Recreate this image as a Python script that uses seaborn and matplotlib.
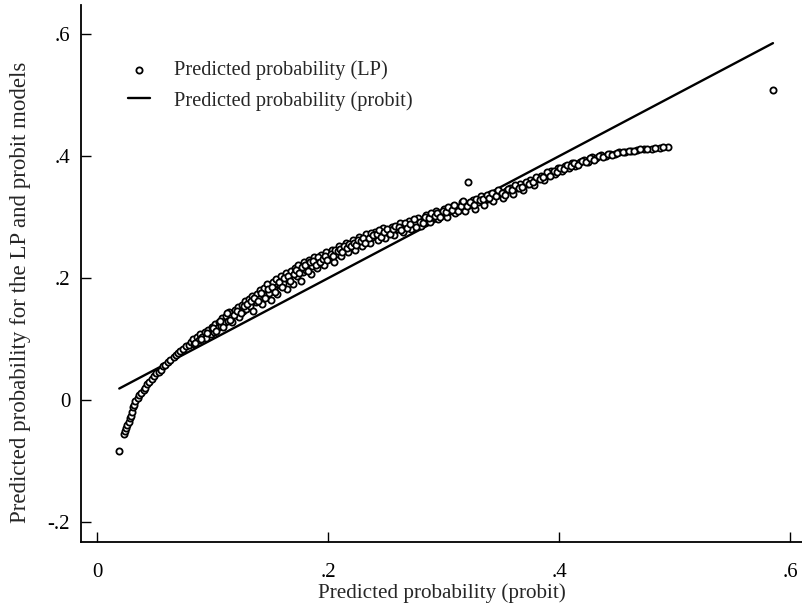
import matplotlib
matplotlib.use("Agg")
import matplotlib.pyplot as plt
import seaborn as sns
import pandas as pd

# Predicted probabilities: probit (x) and linear probability model (y)
probit_a = [
    0.019, 0.023, 0.024, 0.025, 0.026, 0.027, 0.028, 0.029, 0.030, 0.031,
    0.032, 0.033, 0.035, 0.036, 0.038, 0.040, 0.041, 0.043, 0.045, 0.047,
    0.049, 0.051, 0.053, 0.055, 0.057, 0.059, 0.061, 0.063, 0.066, 0.068,
    0.070, 0.072, 0.074, 0.077, 0.079,
    0.081, 0.083, 0.084, 0.086, 0.088, 0.089, 0.091, 0.093, 0.094, 0.096,
    0.098, 0.099,
    0.101, 0.102, 0.104, 0.105, 0.107, 0.108, 0.110, 0.111, 0.113, 0.114,
    0.116, 0.117, 0.119, 0.120, 0.122, 0.123, 0.125, 0.126, 0.128, 0.129,
    0.131, 0.132, 0.134, 0.135, 0.137, 0.138, 0.140, 0.141, 0.143, 0.144,
    0.146, 0.147, 0.149, 0.150, 0.152, 0.153, 0.155, 0.156, 0.158, 0.159,
    0.161, 0.163, 0.164, 0.166, 0.168, 0.169, 0.171, 0.173, 0.174, 0.176,
    0.178, 0.179, 0.181, 0.183, 0.185, 0.186, 0.188, 0.190, 0.192, 0.194,
    0.196, 0.198,
    0.201, 0.203, 0.205, 0.207, 0.209, 0.211, 0.213, 0.215, 0.217, 0.219,
    0.221, 0.223, 0.225, 0.227, 0.229, 0.231, 0.233, 0.236, 0.238, 0.240,
    0.243, 0.245, 0.247, 0.249,
    0.252, 0.255, 0.257, 0.260, 0.262, 0.265, 0.267, 0.270, 0.272, 0.275,
    0.278, 0.280, 0.283, 0.285, 0.288, 0.290, 0.293, 0.295, 0.298,
    0.300, 0.303, 0.305, 0.308, 0.310, 0.313, 0.316, 0.318, 0.321, 0.322,
    0.325, 0.327, 0.330, 0.332, 0.335, 0.338, 0.340, 0.343, 0.346, 0.348,
    0.351, 0.354, 0.357, 0.360, 0.363, 0.366, 0.369, 0.372, 0.375, 0.378,
    0.381, 0.384, 0.387, 0.390, 0.393, 0.396, 0.399,
    0.402, 0.405, 0.408, 0.411, 0.414, 0.418, 0.421, 0.425, 0.428, 0.432,
    0.436, 0.440, 0.444, 0.448, 0.452, 0.457, 0.462, 0.467, 0.473, 0.480,
    0.487, 0.494,
    0.585,
]
lp_a = [
    -0.083, -0.055, -0.050, -0.046, -0.040, -0.036, -0.030, -0.026, -0.020, -0.012,
    -0.008, -0.002, 0.004, 0.008, 0.012, 0.016, 0.020, 0.026, 0.030, 0.034,
    0.040, 0.044, 0.046, 0.050, 0.056, 0.058, 0.062, 0.066, 0.070, 0.074,
    0.078, 0.080, 0.084, 0.088, 0.090,
    0.096, 0.100, 0.092, 0.104, 0.098, 0.108, 0.103, 0.112, 0.101, 0.115,
    0.108, 0.120,
    0.112, 0.124, 0.118, 0.128, 0.122, 0.134, 0.126, 0.138, 0.130, 0.144,
    0.136, 0.128, 0.148, 0.140, 0.152, 0.136, 0.156, 0.146, 0.162, 0.150,
    0.166, 0.154, 0.170, 0.146, 0.160, 0.174, 0.166, 0.180, 0.158, 0.184,
    0.172, 0.190, 0.176, 0.164, 0.194, 0.182, 0.198, 0.174, 0.188, 0.204,
    0.192, 0.208, 0.182, 0.198, 0.212, 0.190, 0.216, 0.204, 0.222, 0.196,
    0.210, 0.226, 0.214, 0.230, 0.206, 0.220, 0.234, 0.216, 0.228, 0.238,
    0.222, 0.242,
    0.232, 0.246, 0.226, 0.240, 0.252, 0.236, 0.248, 0.258, 0.242, 0.254,
    0.262, 0.246, 0.258, 0.268, 0.252, 0.262, 0.272, 0.258, 0.268, 0.276,
    0.262, 0.272, 0.282, 0.266,
    0.276, 0.284, 0.270, 0.280, 0.290, 0.276, 0.286, 0.294, 0.280, 0.290,
    0.298, 0.286, 0.296, 0.304, 0.292, 0.300, 0.310, 0.296, 0.306,
    0.314, 0.300, 0.310, 0.318, 0.306, 0.316, 0.324, 0.310, 0.358, 0.320,
    0.328, 0.314, 0.324, 0.334, 0.320, 0.330, 0.338, 0.326, 0.336, 0.342,
    0.332, 0.342, 0.348, 0.338, 0.348, 0.354, 0.344, 0.354, 0.360, 0.352,
    0.362, 0.368, 0.360, 0.370, 0.376, 0.370, 0.380,
    0.376, 0.384, 0.380, 0.388, 0.384, 0.390, 0.394, 0.390, 0.398, 0.396,
    0.402, 0.400, 0.404, 0.404, 0.406, 0.407, 0.409, 0.410, 0.411, 0.412,
    0.413, 0.414,
    0.509,
]
probit_b = [
    0.085, 0.090, 0.095, 0.100, 0.103, 0.106, 0.109, 0.112, 0.115, 0.118,
    0.121, 0.124, 0.127, 0.130, 0.133, 0.136, 0.139, 0.142, 0.145, 0.148,
    0.151, 0.154, 0.157, 0.160, 0.162, 0.165, 0.167, 0.170, 0.172, 0.175,
    0.177, 0.180, 0.182, 0.184, 0.187, 0.189, 0.191, 0.193, 0.195, 0.197,
    0.199, 0.202, 0.204, 0.206, 0.208, 0.210, 0.212, 0.214, 0.216, 0.218,
    0.220, 0.222, 0.224, 0.226, 0.228, 0.230, 0.232, 0.235, 0.237, 0.239,
    0.242, 0.244, 0.246, 0.248, 0.251, 0.253, 0.256, 0.258, 0.261, 0.263,
    0.266, 0.268, 0.271, 0.274, 0.276, 0.279, 0.282, 0.284, 0.287, 0.289,
    0.292, 0.294, 0.297, 0.299, 0.302, 0.304, 0.307, 0.309, 0.312, 0.315,
    0.317, 0.320, 0.323, 0.326, 0.328, 0.331, 0.334, 0.337, 0.339, 0.342,
    0.345, 0.347, 0.350, 0.353, 0.356, 0.359, 0.362, 0.365, 0.368, 0.371,
    0.374, 0.377, 0.380, 0.383, 0.386, 0.389, 0.392, 0.395, 0.398, 0.401,
    0.404, 0.407, 0.410, 0.413, 0.416, 0.420, 0.423, 0.427, 0.430, 0.434,
    0.438, 0.442, 0.446, 0.450, 0.455, 0.460, 0.465, 0.470, 0.476, 0.483,
    0.490,
]
lp_b = [
    0.094, 0.100, 0.110, 0.118, 0.114, 0.130, 0.120, 0.142, 0.132, 0.140,
    0.146, 0.142, 0.154, 0.158, 0.162, 0.168, 0.162, 0.176, 0.168, 0.182,
    0.186, 0.178, 0.194, 0.186, 0.200, 0.204, 0.196, 0.206, 0.214, 0.208,
    0.218, 0.222, 0.212, 0.226, 0.228, 0.222, 0.234, 0.226, 0.232, 0.236,
    0.230, 0.240, 0.236, 0.246, 0.244, 0.248, 0.242, 0.252, 0.250, 0.256,
    0.252, 0.258, 0.254, 0.262, 0.260, 0.266, 0.258, 0.266, 0.274, 0.270,
    0.272, 0.278, 0.268, 0.276, 0.280, 0.272, 0.280, 0.286, 0.284, 0.278,
    0.290, 0.282, 0.288, 0.296, 0.284, 0.292, 0.290, 0.300, 0.298, 0.306,
    0.302, 0.306, 0.300, 0.310, 0.308, 0.316, 0.312, 0.320, 0.310, 0.318,
    0.326, 0.318, 0.324, 0.320, 0.330, 0.328, 0.330, 0.336, 0.332, 0.340,
    0.334, 0.344, 0.340, 0.336, 0.346, 0.344, 0.352, 0.348, 0.350, 0.358,
    0.354, 0.358, 0.366, 0.362, 0.366, 0.374, 0.368, 0.376, 0.374, 0.380,
    0.378, 0.386, 0.384, 0.388, 0.386, 0.392, 0.390, 0.396, 0.394, 0.400,
    0.398, 0.403, 0.402, 0.405, 0.406, 0.408, 0.409, 0.411, 0.412, 0.413,
    0.414,
]

# Probit prediction plotted against itself (45-degree reference)
probit_line = [0.019, 0.585]

xtick_values = [0.0, 0.2, 0.4, 0.6]
xtick_labels = ["0", ".2", ".4", ".6"]
ytick_values = [-0.2, 0.0, 0.2, 0.4, 0.6]
ytick_labels = ["-.2", "0", ".2", ".4", ".6"]

scatter_df = pd.DataFrame({"probit": probit_a + probit_b, "lp": lp_a + lp_b})
line_df = pd.DataFrame({"probit": probit_line, "fit": probit_line})

sns.set_style("ticks")
plt.rcParams["font.family"] = ["Liberation Serif", "DejaVu Serif"]

fig = plt.figure(figsize=(8.03, 6.09), dpi=100)
ax = fig.add_axes([0.1012, 0.1095, 0.8988, 0.8823])

sns.scatterplot(data=scatter_df, x="probit", y="lp", ax=ax,
                marker="o", s=20, facecolor="white", edgecolor="black",
                linewidth=1.3, label="Predicted probability (LP)", zorder=3)
sns.lineplot(data=line_df, x="probit", y="fit", ax=ax, color="black",
             linewidth=1.7, label="Predicted probability (probit)", zorder=2)

ax.set_xlim(-0.0139, 0.611)
ax.set_ylim(-0.233, 0.6475)
ax.set_xticks(xtick_values)
ax.set_xticklabels(xtick_labels)
ax.set_yticks(ytick_values)
ax.set_yticklabels(ytick_labels)
ax.tick_params(direction="in", length=7, width=1.0, labelsize=15,
               colors="black")
ax.tick_params(axis="y", pad=8)
ax.tick_params(axis="x", pad=15)
for side in ("top", "right"):
    ax.spines[side].set_visible(False)
for side in ("left", "bottom"):
    ax.spines[side].set_linewidth(1.3)
    ax.spines[side].set_color("black")

ax.set_xlabel("Predicted probability (probit)", fontsize=15.2)
ax.set_ylabel("Predicted probability for the LP and probit models",
              fontsize=16.5)
ax.xaxis.set_label_coords(0.5, -0.0757)
ax.yaxis.set_label_coords(-0.070, 0.465)

leg = ax.legend(loc="upper left", bbox_to_anchor=(0.0533, 0.912),
                frameon=False, fontsize=14.7, handlelength=1.08,
                handletextpad=1.18, labelspacing=0.52, borderaxespad=0.0)

fig.savefig("out.png", dpi=100, facecolor="white")
